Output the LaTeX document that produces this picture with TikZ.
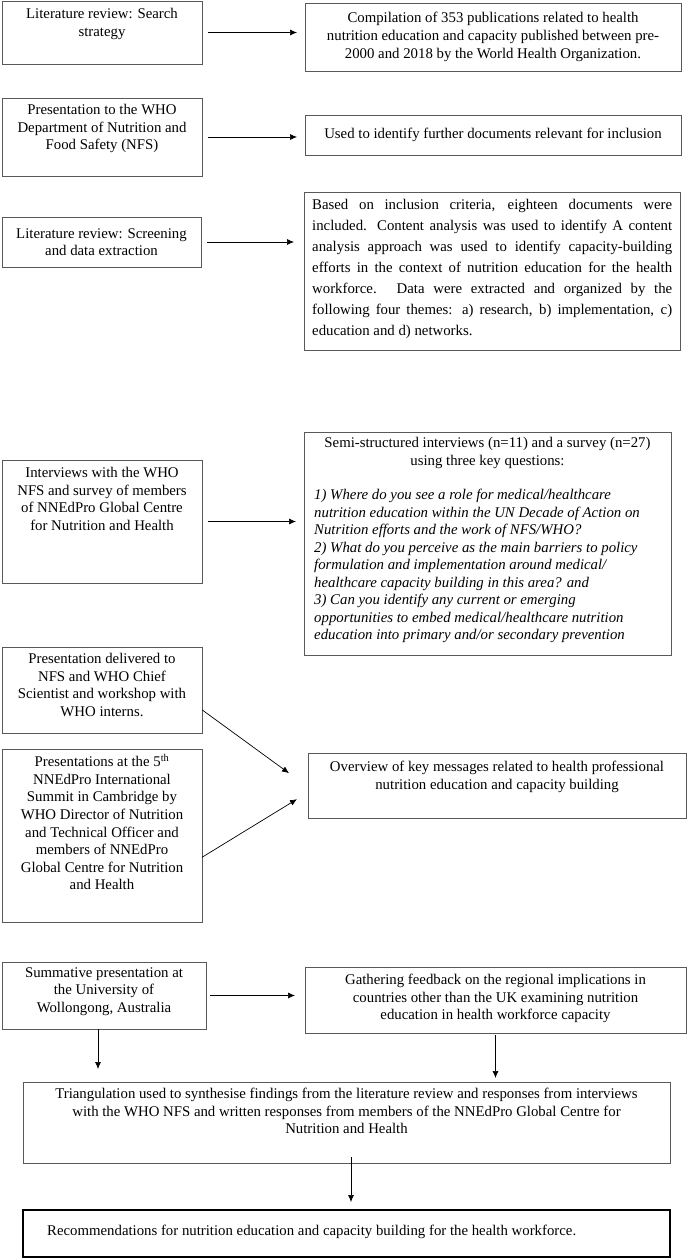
\documentclass[tikz,border=0pt]{standalone}
\usepackage{fontspec}
\setmainfont{Liberation Serif}
\usetikzlibrary{arrows.meta,fit,calc}
\begin{document}
\begin{tikzpicture}[x=1pt,y=-1pt,
  box/.style={draw=black!65, line width=0.9pt, inner sep=0pt, outer sep=0pt},
  txt/.style={inner sep=0pt, align=center, font=\fontsize{14.8}{17.6}\selectfont},
  arr/.style={draw=black, line width=0.7pt, -{Latex[length=7pt,width=6pt]}}]
\fill[white] (0,0) rectangle (688,1258);
\useasboundingbox (0,0) rectangle (688,1258);
% boxes
\node[box, fit={(2,1) (202,64)}] (a1) {};
\node[box, fit={(305,3) (681,71)}] (b1) {};
\node[box, fit={(2,98) (202,176)}] (a2) {};
\node[box, fit={(305,115) (681,155)}] (b2) {};
\node[box, fit={(2,217) (201,267)}] (a3) {};
\node[box, fit={(304,192) (680,350)}] (b3) {};
\node[box, fit={(2,460) (202,583)}] (a4) {};
\node[box, fit={(304,432) (671,655)}] (b4) {};
\node[box, fit={(2,647) (202,733)}] (a5) {};
\node[box, fit={(2,749) (202,922)}] (a6) {};
\node[box, fit={(308,753) (686,818)}] (b5) {};
\node[box, fit={(2,962) (206,1029)}] (a7) {};
\node[box, fit={(305,967) (686,1033)}] (b7) {};
\node[box, fit={(23,1082) (670,1163)}] (c) {};
\node[box, draw=black, line width=1.6pt, fit={(23,1210) (670,1257)}] (d) {};
% texts
\node[txt, anchor=north] (a1t) at ($(a1.north)+(0,7)$) {Literature review: Search\\ strategy};
\node[txt, font=\fontsize{14.8}{18.2}\selectfont] (b1t) at (b1.center) {Compilation of 353 publications related to health\\ nutrition education and capacity published between pre-\\ 2000 and 2018 by the World Health Organization.};
\node[txt, anchor=north] (a2t) at ($(a2.north)+(0,6)$) {Presentation to the WHO\\ Department of Nutrition and\\ Food Safety (NFS)};
\node[txt] (b2t) at (b2.center) {Used to identify further documents relevant for inclusion};
\node[txt] (a3t) at (a3.center) {Literature review: Screening\\ and data extraction};
\node[txt, anchor=north west, align=justify, text width=360pt, font=\fontsize{14.8}{21}\selectfont] (b3t) at ($(b3.north west)+(8,7)$) {Based on inclusion criteria, eighteen documents were\linebreak included. Content analysis was used to identify A content\linebreak analysis approach was used to identify capacity-building\linebreak efforts in the context of nutrition education for the health\linebreak workforce. Data were extracted and organized by the\linebreak following four themes: a) research, b) implementation, c)\linebreak education and d) networks.};
\node[txt, anchor=north] (a4t) at ($(a4.north)+(0,7)$) {Interviews with the WHO\\ NFS and survey of members\\ of NNEdPro Global Centre\\ for Nutrition and Health};
\node[txt, anchor=north] (b4h) at ($(b4.north)+(0,5)$) {Semi-structured interviews (n=11) and a survey (n=27)\\ using three key questions:};
\node[txt, anchor=north west, align=left, font=\fontsize{14.8}{17.5}\selectfont\itshape] (b4q) at ($(b4.north west)+(10,57)$) {1) Where do you see a role for medical/healthcare\\ nutrition education within the UN Decade of Action on\\ Nutrition efforts and the work of NFS/WHO?\\ 2) What do you perceive as the main barriers to policy\\ formulation and implementation around medical/\\ healthcare capacity building in this area? and\\ 3) Can you identify any current or emerging\\ opportunities to embed medical/healthcare nutrition\\ education into primary and/or secondary prevention};
\node[txt, anchor=north] (a5t) at ($(a5.north)+(0,6)$) {Presentation delivered to\\ NFS and WHO Chief\\ Scientist and workshop with\\ WHO interns.};
\node[txt, anchor=north] (a6t) at ($(a6.north)+(0,5)$) {Presentations at the 5\textsuperscript{th}\\ NNEdPro International\\ Summit in Cambridge by\\ WHO Director of Nutrition\\ and Technical Officer and\\ members of NNEdPro\\ Global Centre for Nutrition\\ and Health};
\node[txt, anchor=north] (b5t) at ($(b5.north)+(0,8)$) {Overview of key messages related to health professional\\ nutrition education and capacity building};
\node[txt, anchor=north] (a7t) at ($(a7.north)+(0,5)$) {Summative presentation at\\ the University of\\ Wollongong, Australia};
\node[txt, anchor=north] (b7t) at ($(b7.north)+(0,7)$) {Gathering feedback on the regional implications in\\ countries other than the UK examining nutrition\\ education in health workforce capacity};
\node[txt, anchor=north] (ct) at ($(c.north)+(0,6)$) {Triangulation used to synthesise findings from the literature review and responses from interviews\\ with the WHO NFS and written responses from members of the NNEdPro Global Centre for\\ Nutrition and Health};
\node[txt, anchor=west] (dt) at ($(d.west)+(24,-2)$) {Recommendations for nutrition education and capacity building for the health workforce.};
% connectors
\draw[arr, shorten <=6pt, shorten >=8pt] (a1.east) -- (a1.east -| b1.west);
\draw[arr, shorten <=6pt, shorten >=8pt] (a2.east) -- (a2.east -| b2.west);
\draw[arr, shorten <=6pt, shorten >=10pt] (a3.east) -- (a3.east -| b3.west);
\draw[arr, shorten <=6pt, shorten >=8pt] (a4.east) -- (a4.east -| b4.west);
\draw[arr] ($(a5.north east)!0.73!(a5.south east)$) -- ($(b5.north west)!0.31!(b5.south west)+(-19,0)$);
\draw[arr] ($(a6.north east)!0.626!(a6.south east)$) -- ($(b5.north west)!0.71!(b5.south west)+(-11,0)$);
\draw[arr, shorten <=4pt, shorten >=10pt] (a7.east) -- (a7.east -| b7.west);
\draw[arr, shorten >=13pt] ([xshift=-6pt]a7.south) -- ([xshift=-6pt]a7.south |- c.north);
\draw[arr, shorten <=2pt, shorten >=4pt] (b7.south) -- (b7.south |- c.north);
\draw[arr, shorten <=-6pt, shorten >=8pt] ([xshift=4.5pt]c.south) -- ([xshift=4.5pt]c.south |- d.north);
\end{tikzpicture}
\end{document}
